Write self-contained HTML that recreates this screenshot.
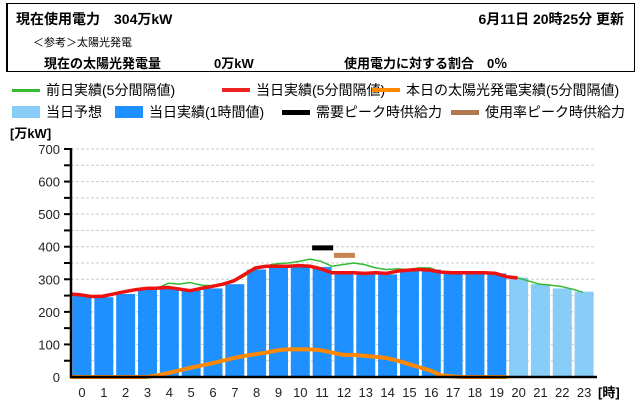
<!DOCTYPE html>
<html><head><meta charset="utf-8"><style>
body{margin:0;width:640px;height:420px;background:#fff;font-family:"Liberation Sans","Noto Sans CJK JP",sans-serif;position:relative;overflow:hidden;color:#000}
.box{position:absolute;left:6px;top:3px;width:626px;height:67px;border:1px solid #000;border-left-width:2px}
.t{position:absolute;white-space:nowrap}
.b{font-weight:bold}
.lg{position:absolute;font-size:14px;white-space:nowrap;display:flex;align-items:center}
.sw{display:inline-block;width:28px;height:4px;margin-right:6px}
.sq{display:inline-block;width:28px;height:12px;margin-right:6px}
</style></head><body>
<div class="box">
<div class="t b" style="left:8px;top:5px;font-size:14px">現在使用電力　304万kW</div>
<div class="t b" style="right:10px;top:5px;font-size:14px">6月11日 20時25分 更新</div>
<div class="t" style="left:25px;top:30px;font-size:11px">＜参考＞太陽光発電</div>
<div class="t b" style="left:36px;top:49px;font-size:13px">現在の太陽光発電量</div>
<div class="t b" style="left:206px;top:49px;font-size:13px">0万kW</div>
<div class="t b" style="left:336px;top:49px;font-size:13px">使用電力に対する割合　0％</div>
</div>
<div class="lg" style="left:12px;top:80px"><span class="sw" style="background:#33bb33;height:3px"></span>前日実績(5分間隔値)</div>
<div class="lg" style="left:222px;top:80px"><span class="sw" style="background:#ee2222"></span>当日実績(5分間隔値)</div>
<div class="lg" style="left:372px;top:80px"><span class="sw" style="background:#ff8800"></span>本日の太陽光発電実績(5分間隔値)</div>
<div class="lg" style="left:12px;top:102px"><span class="sq" style="background:#88ccf8"></span>当日予想</div>
<div class="lg" style="left:115px;top:102px"><span class="sq" style="background:#1e90ff"></span>当日実績(1時間値)</div>
<div class="lg" style="left:282px;top:102px"><span class="sw" style="background:#000;height:5px"></span>需要ピーク時供給力</div>
<div class="lg" style="left:451px;top:102px"><span class="sw" style="background:#b07850;height:5px"></span>使用率ピーク時供給力</div>
<div class="t b" style="left:10px;top:123px;font-size:13px">[万kW]</div>
<svg id="chart" width="640" height="420" style="position:absolute;left:0;top:0"></svg>
<script>
const hours=[0,1,2,3,4,5,6,7,8,9,10,11,12,13,14,15,16,17,18,19,20,21,22,23];
const actualHourly=[250,245,255,268,270,268,272,285,330,338,340,338,318,318,315,325,330,320,318,318];
const forecastHourly=[305,285,272,262];
const halfHours=[0,0.5,1,1.5,2,2.5,3,3.5,4,4.5,5,5.5,6,6.5,7,7.5,8,8.5,9,9.5,10,10.5,11,11.5,12,12.5,13,13.5,14,14.5,15,15.5,16,16.5,17,17.5,18,18.5,19,19.5,20,20.5,21,21.5,22,22.5,23,23.5];
const todayLine=[255,252,247,248,255,262,268,272,273,275,270,265,272,278,285,295,315,335,340,340,340,342,340,332,320,320,320,318,320,318,325,328,330,328,322,320,320,320,320,318,308,304];
const prevLine=[255,250,245,247,255,262,268,270,272,288,285,290,282,280,285,292,310,332,342,348,350,355,362,355,340,345,350,345,335,330,332,330,335,335,322,320,320,320,322,318,308,305,295,285,282,278,270,260];
const solarLine=[0,0,0,0,0,0,0,0,5,12,20,28,35,42,50,58,65,70,75,82,85,85,85,82,75,68,68,65,62,58,50,40,30,20,5,2,0,0,0,0,0];
const yTicks=[0,100,200,300,400,500,600,700];
const demandPeak={hour:11,value:398};
const usagePeak={hour:12,value:375};
const svg=document.getElementById('chart');const NS='http://www.w3.org/2000/svg';
const X0=71,SLOT=21.83,Y0=377,PPU=0.3257;
const xs=h=>X0+11+h*SLOT, ys=v=>Y0-v*PPU;
function mk(t,a){const e=document.createElementNS(NS,t);for(const k in a)e.setAttribute(k,a[k]);svg.appendChild(e);return e;}
for(let v=50;v<=700;v+=50){const g=mk('line',{x1:X0,x2:595,y1:ys(v),y2:ys(v),stroke:'#ccc','stroke-dasharray':'3,2'});


const tk=mk('line',{x1:64,x2:X0,y1:ys(v),y2:ys(v),stroke:'#000','stroke-width':2});

}
yTicks.forEach(v=>{const t=mk('text',{x:60,y:ys(v)+5,'text-anchor':'end','font-size':13,fill:'#222'});t.textContent=v;

});
actualHourly.forEach((v,i)=>{const r=mk('rect',{x:xs(i)-9.5,y:ys(v),width:19,height:Y0-ys(v),fill:'#1e90ff'});

});
forecastHourly.forEach((v,j)=>{const i=actualHourly.length+j;const r=mk('rect',{x:xs(i)-9.5,y:ys(v),width:19,height:Y0-ys(v),fill:'#88ccf8'});

});
function line(vals,col,w,name){const p=vals.map((v,i)=>xs(halfHours[i]-0.55)+','+ys(v)).join(' ');const l=mk('polyline',{points:p,fill:'none',stroke:col,'stroke-width':w,'stroke-linejoin':'round'});

}
line(prevLine,'#33bb33',1.5,'prev-day-line');
line(solarLine,'#ff8800',4,'solar-line');
line(todayLine,'#ee1111',3.5,'today-line');
const dp=mk('rect',{x:xs(demandPeak.hour)-10,y:ys(demandPeak.value)-2,width:21,height:5,fill:'#000'});


const up=mk('rect',{x:xs(usagePeak.hour)-10,y:ys(usagePeak.value)-2,width:21,height:5,fill:'#c8844a'});


const ax=mk('line',{x1:X0,x2:X0,y1:148,y2:Y0+1,stroke:'#000','stroke-width':2.5});


const bx=mk('line',{x1:X0,x2:597,y1:Y0,y2:Y0,stroke:'#000','stroke-width':2.5});


hours.forEach(h=>{const t=mk('text',{x:xs(h),y:397,'text-anchor':'middle','font-size':13,fill:'#222'});t.textContent=h;

});
const u=mk('text',{x:598,y:397,'font-size':13,'font-weight':'bold'});u.textContent='[時]';


</script>
</body></html>
